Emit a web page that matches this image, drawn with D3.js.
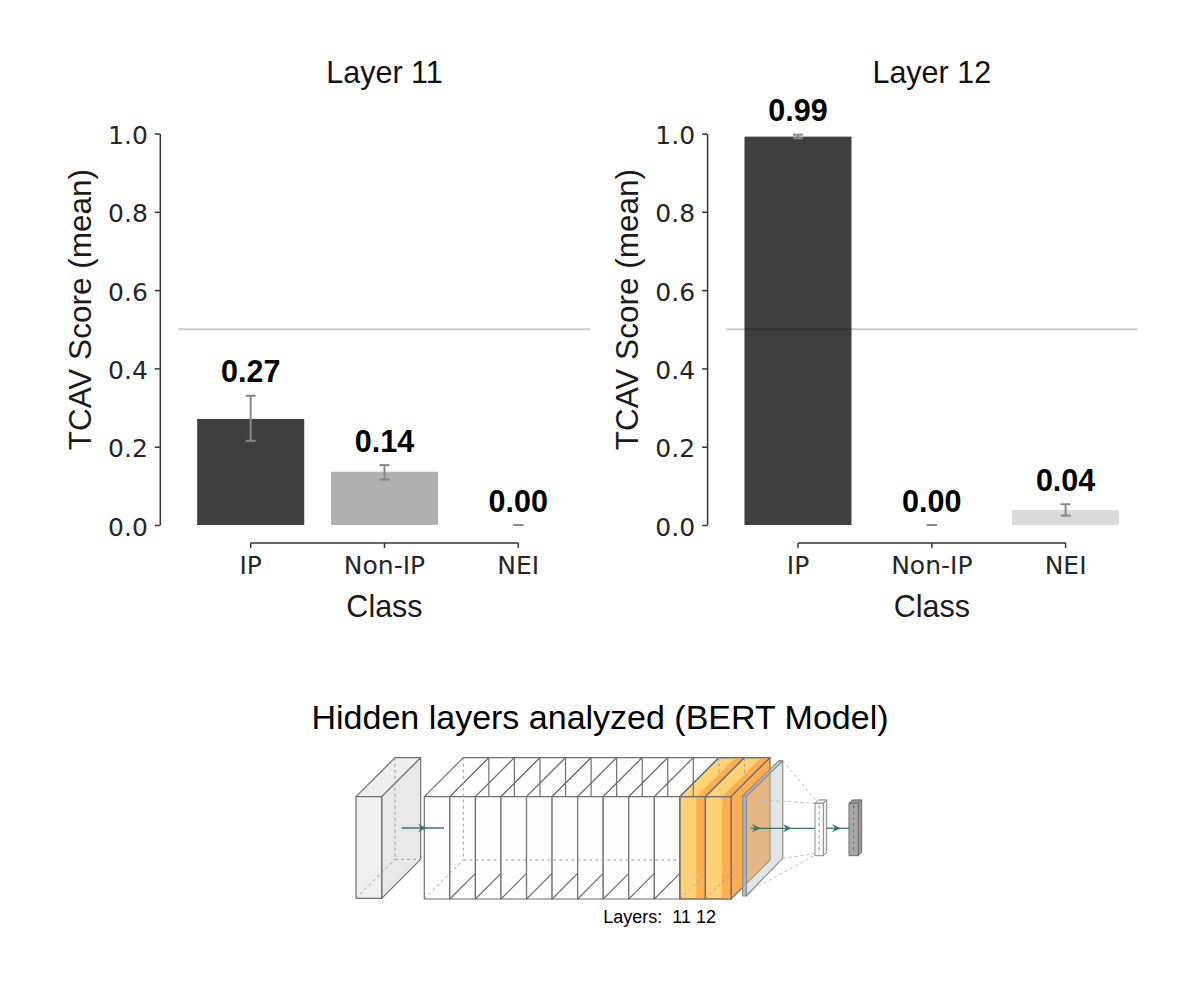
<!DOCTYPE html>
<html><head><meta charset="utf-8">
<script src="https://cdn.jsdelivr.net/npm/d3@7"></script>
<style>body{margin:0;background:#fff}</style>
</head><body><svg id="c" width="1200" height="1005"></svg>
<script>
// ---------------- data ----------------
const classes = ["IP", "Non-IP", "NEI"];
const layer11Mean = [0.271, 0.136, 0.000];
const layer11Low  = [0.215, 0.116, 0.000];
const layer11High = [0.330, 0.153, 0.000];
const layer12Mean = [0.992, 0.000, 0.038];
const layer12Low  = [0.988, 0.000, 0.024];
const layer12High = [0.997, 0.000, 0.053];
const yTickValues = [0, 0.2, 0.4, 0.6, 0.8, 1.0];
const panelTitles = ["Layer 11", "Layer 12"];
const thresholdValue = 0.5;
const yLabelText = "TCAV Score (mean)";
const xLabelText = "Class";
const diagramTitle = "Hidden layers analyzed (BERT Model)";
const layerCount = 12;
const highlightedLayers = [11, 12];
const layersCaption = "Layers:  " + highlightedLayers.join(" ");

// ---------------- setup ----------------
const SANS = "'Liberation Sans', Arial, sans-serif";
const DJ = "'DejaVu Sans', sans-serif";
const barColors = ["#404040", "#b0b0b0", "#d9d9d9"];
const svg = d3.select("#c");
svg.append("rect").attr("width", 1200).attr("height", 1005).attr("fill", "#fff");

const panels = [
  {title: panelTitles[0], mean: layer11Mean, lo: layer11Low, hi: layer11High, x0: 183.8},
  {title: panelTitles[1], mean: layer12Mean, lo: layer12Low, hi: layer12High, x0: 731.1}
];
const panelW = 401.4;
const y = d3.scaleLinear().domain([0, 1]).range([525, 133.5]);

panels.forEach(p => {
  const x = d3.scaleBand().domain(classes).range([p.x0, p.x0 + panelW]).paddingInner(0.2).paddingOuter(0.1);
  const g = svg.append("g");
  const rows = classes.map((c, i) => ({c, i, m: p.mean[i], lo: p.lo[i], hi: p.hi[i]}));
  const cx = d => x(d.c) + x.bandwidth() / 2;

  g.selectAll("rect.bar").data(rows).join("rect").attr("class", "bar")
    .attr("x", d => x(d.c)).attr("width", x.bandwidth())
    .attr("y", d => y(d.m)).attr("height", d => y(0) - y(d.m))
    .attr("fill", d => barColors[d.i]);

  const step = x.step();
  g.append("line")
    .attr("x1", p.x0 - 0.041 * step).attr("x2", p.x0 + panelW + 0.037 * step)
    .attr("y1", y(thresholdValue)).attr("y2", y(thresholdValue))
    .attr("stroke", "#000").attr("stroke-opacity", 0.2).attr("stroke-width", 2);

  const eb = g.selectAll("g.eb").data(rows).join("g").attr("class", "eb")
    .attr("stroke", "#888").attr("stroke-width", 2);
  eb.append("line").attr("x1", cx).attr("x2", cx).attr("y1", d => y(d.lo)).attr("y2", d => y(d.hi));
  eb.append("line").attr("x1", d => cx(d) - 5).attr("x2", d => cx(d) + 5).attr("y1", d => y(d.lo)).attr("y2", d => y(d.lo));
  eb.append("line").attr("x1", d => cx(d) - 5).attr("x2", d => cx(d) + 5).attr("y1", d => y(d.hi)).attr("y2", d => y(d.hi));

  g.selectAll("text.val").data(rows).join("text").attr("class", "val")
    .attr("x", cx).attr("y", d => y(d.hi) - 13.5).attr("text-anchor", "middle")
    .style("font-family", SANS).style("font-weight", "bold").style("font-size", "30.5px").attr("fill", "#000")
    .text(d => d3.format(".2f")(d.m));

  // y axis
  const ax = p.x0 - 24;
  const ya = g.append("g").attr("transform", `translate(${ax},0)`)
    .call(d3.axisLeft(y).tickValues(yTickValues).tickFormat(d3.format(".1f"))
      .tickSizeInner(5).tickSizeOuter(0).tickPadding(7));
  ya.selectAll("path,line").attr("stroke", "#333").attr("stroke-width", 1.5);
  ya.selectAll("text").attr("dy", "0.4em").style("font-family", DJ).style("font-size", "25px").attr("fill", "#262626");

  // x axis
  const xa = g.append("g").attr("transform", `translate(0,543)`)
    .call(d3.axisBottom(x).tickSizeInner(5).tickSizeOuter(0).tickPadding(8));
  xa.select(".domain").attr("d", `M${cx(rows[0])},0H${cx(rows[rows.length - 1])}`);
  xa.selectAll("path,line").attr("stroke", "#333").attr("stroke-width", 1.5);
  xa.selectAll("text").style("font-family", DJ).style("font-size", "25px").attr("fill", "#262626");

  // titles and labels
  g.append("text").attr("x", p.x0 + panelW / 2).attr("y", 83.3).attr("text-anchor", "middle")
    .style("font-family", SANS).style("font-size", "30.5px").attr("fill", "#111").text(p.title);
  g.append("text").attr("x", p.x0 + panelW / 2).attr("y", 617).attr("text-anchor", "middle")
    .style("font-family", SANS).style("font-size", "30.5px").attr("fill", "#1a1a1a").text(xLabelText);
  g.append("text").attr("transform", `translate(${ax - 69},${y(0.55)}) rotate(-90)`).attr("text-anchor", "middle")
    .style("font-family", SANS).style("font-size", "31.5px").attr("fill", "#1a1a1a").text(yLabelText);
});

// ---------------- network diagram ----------------
const dg = svg.append("g");
const EDGE = "#6f6f6f", HID = "#9c9c9c", TEAL = "#3b7373";
const LIGHT_OR = "#ffd175", DARK_OR = "#ffad52";
const D = 39, yT = 796.7, yB = 899;
const poly = pts => "M" + pts.map(q => q.join(",")).join("L") + "Z";
const line = (x1, y1, x2, y2, dashed, col) => dg.append("line")
  .attr("x1", x1).attr("y1", y1).attr("x2", x2).attr("y2", y2)
  .attr("stroke", col || (dashed ? HID : EDGE)).attr("stroke-width", dashed ? 1 : 1.2)
  .attr("stroke-dasharray", dashed ? "3,3" : null);
const face = (pts, fill, op) => dg.append("path").attr("d", poly(pts)).attr("fill", fill)
  .attr("fill-opacity", op == null ? 1 : op).attr("stroke", EDGE).attr("stroke-width", 1.2).attr("stroke-linejoin", "round");

dg.append("text").attr("x", 600).attr("y", 729).attr("text-anchor", "middle")
  .style("font-family", SANS).style("font-size", "34px").attr("fill", "#000").text(diagramTitle);

// input block
{
  const l = 356, r = 381.7, b = 898.3;
  face([[l, yT], [r, yT], [r + D, yT - D], [l + D, yT - D]], "#eeeeee");
  face([[r, yT], [r + D, yT - D], [r + D, b - D], [r, b]], "#e8e8e8");
  face([[l, yT], [r, yT], [r, b], [l, b]], "#efefef");
  line(l + D, yT - D, l + D, b - D, true);
  line(l + D, b - D, r + D, b - D, true);
  line(l, b, l + D, b - D, true);
}

// 12 stacked layers
const lx = d3.scaleLinear().domain([0, layerCount]).range([424.3, 731]);
const sw = lx(1) - lx(0);
const isHi = i => highlightedLayers.includes(i + 1);
d3.range(layerCount).forEach(i => {
  const a = lx(i), b = lx(i + 1);
  if (isHi(i)) {
    face([[a, yT], [b, yT], [b + D, yT - D], [a + D, yT - D]], LIGHT_OR);
    const s = a + 0.64 * sw;
    dg.append("path").attr("d", poly([[s, yT], [b, yT], [b + D, yT - D], [s + D, yT - D]])).attr("fill", DARK_OR);
    face([[a, yT], [b, yT], [b + D, yT - D], [a + D, yT - D]], "none");
  } else {
    face([[a, yT], [b, yT], [b + D, yT - D], [a + D, yT - D]], "#fefefe");
  }
});
// right face of last layer
{
  const b = lx(layerCount);
  face([[b, yT], [b + D, yT - D], [b + D, yB - D], [b, yB]], isHi(layerCount - 1) ? DARK_OR : "#fafafa");
}
d3.range(layerCount).forEach(i => {
  const a = lx(i), b = lx(i + 1);
  if (isHi(i)) {
    face([[a, yT], [b, yT], [b, yB], [a, yB]], LIGHT_OR);
    const s = a + 0.64 * sw;
    dg.append("rect").attr("x", s).attr("y", yT).attr("width", b - s).attr("height", yB - yT).attr("fill", DARK_OR);
    face([[a, yT], [b, yT], [b, yB], [a, yB]], "none");
  } else {
    face([[a, yT], [b, yT], [b, yB], [a, yB]], "#fdfdfd");
  }
});
d3.range(1, layerCount).forEach(i => {
  const a = lx(i), b = lx(i + 1);
  line(a + D, yT - D, a + D, isHi(i) ? yT - 23 : yT, isHi(i));
  line(a, yB, b, yB - sw, isHi(i));
});
line(lx(0) + D, yT - D, lx(0) + D, yB - D, true);
line(lx(0), yB, lx(0) + D, yB - D, true);
line(lx(0) + D, yB - D, lx(layerCount - 2), yB - D, true);

// flatten plane (translucent)
{
  const fl = 742.7, fr = 746.3, ft = 796, fb = 896, bx = 782.7, bt = 760.7, bb = 858.3;
  face([[fr, ft], [bx, bt], [bx, bb], [fr, fb]], "#c0c0c0", 0.45).attr("stroke", "#8a8a8a");
  face([[fl, ft], [fr, ft], [bx, bt], [bx - 3.6, bt]], "#c8c8c8", 0.6).attr("stroke", "#8a8a8a");
  face([[fl, ft], [fr, ft], [fr, fb], [fl, fb]], "#b4b4b4", 0.9).attr("stroke", "#8a8a8a");
  line(bx, bt, 816.7, 801.7, true, "#bdbdbd");
  line(fr, 799, 815, 803.3, true, "#bdbdbd");
  line(bx, bb, 816.7, 853.3, true, "#bdbdbd");
  line(fl, fb - 1, 815, 855, true, "#bdbdbd");
}

// small dense boxes
function smallBox(l, w, t, b, d, fill, side, stroke) {
  face([[l, t], [l + w, t], [l + w + d, t - d], [l + d, t - d]], side).attr("stroke", stroke).attr("stroke-width", 1);
  face([[l + w, t], [l + w + d, t - d], [l + w + d, b - d], [l + w, b]], side).attr("stroke", stroke).attr("stroke-width", 1);
  face([[l, t], [l + w, t], [l + w, b], [l, b]], fill).attr("stroke", stroke).attr("stroke-width", 1);
  line(l + w / 2, t + 2, l + w / 2, b - 2, true, stroke);
}
smallBox(815, 8.3, 803.3, 855.7, 3.4, "#ffffff", "#f0f0f0", "#8a8a8a");
smallBox(849, 9.3, 803.3, 855.7, 3.4, "#a8a8a8", "#9a9a9a", "#6a6a6a");

// arrows
function arrow(x1, x2, yy, tips) {
  line(x1, yy, x2, yy, false, TEAL).attr("stroke-width", 1.3);
  tips.forEach(t => dg.append("path")
    .attr("d", `M${t},${yy}L${t - 9},${yy - 4}L${t - 6},${yy}L${t - 9},${yy + 4}Z`).attr("fill", TEAL));
}
arrow(401.7, 444, 828, [427]);
arrow(750.7, 815, 828.3, [761, 792]);
arrow(826.7, 849, 828.3, [841]);

dg.append("text").attr("x", 603.3).attr("y", 922.7).style("white-space", "pre")
  .style("font-family", SANS).style("font-size", "18px").attr("fill", "#000").text(layersCaption);
</script></body></html>
